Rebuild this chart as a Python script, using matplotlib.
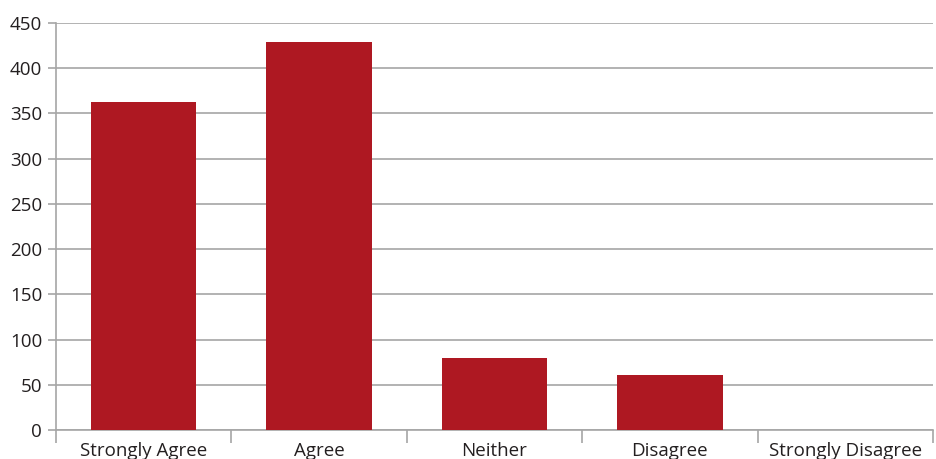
import matplotlib
matplotlib.use("Agg")
import matplotlib.pyplot as plt
import numpy as np
from matplotlib.ticker import FixedLocator

categories = ["Strongly Agree", "Agree", "Neither", "Disagree", "Strongly Disagree"]
counts = [363, 429, 80, 61, 0]
y_ticks = [0, 50, 100, 150, 200, 250, 300, 350, 400, 450]

plt.rcParams.update({
    "font.family": ["Open Sans", "DejaVu Sans"],
    "text.color": "#231f20",
    "xtick.color": "#a6a6a6",
    "ytick.color": "#a6a6a6",
    "xtick.labelcolor": "#231f20",
    "ytick.labelcolor": "#231f20",
})

fig = plt.figure(figsize=(9.36, 4.59), dpi=100, facecolor="white")
ax = fig.add_axes([56 / 936, 29 / 459, 877 / 936, 407 / 459])

x = np.arange(len(categories))
ax.bar(x, counts, width=0.6, color="#ae1822", zorder=3)

ax.set_xlim(-0.5, len(categories) - 0.5)
ax.set_ylim(0, 450)
ax.set_yticks(y_ticks)
ax.set_xticks(x)
ax.set_xticklabels(categories, fontsize=13.5)
ax.xaxis.set_minor_locator(FixedLocator(np.arange(-0.5, len(categories), 1.0)))
ax.tick_params(axis="x", which="major", length=0, pad=9)
ax.tick_params(axis="x", which="minor", length=9, width=1.2, direction="out")
ax.tick_params(axis="y", length=6, width=1.2, labelsize=13.5, pad=4)

ax.grid(axis="y", color="#a6a6a6", linewidth=1.2, zorder=0)
for side in ["top", "right"]:
    ax.spines[side].set_visible(False)
for side in ["left", "bottom"]:
    ax.spines[side].set_color("#a6a6a6")
    ax.spines[side].set_linewidth(1.2)

fig.savefig("out.png", dpi=100, facecolor="white")
